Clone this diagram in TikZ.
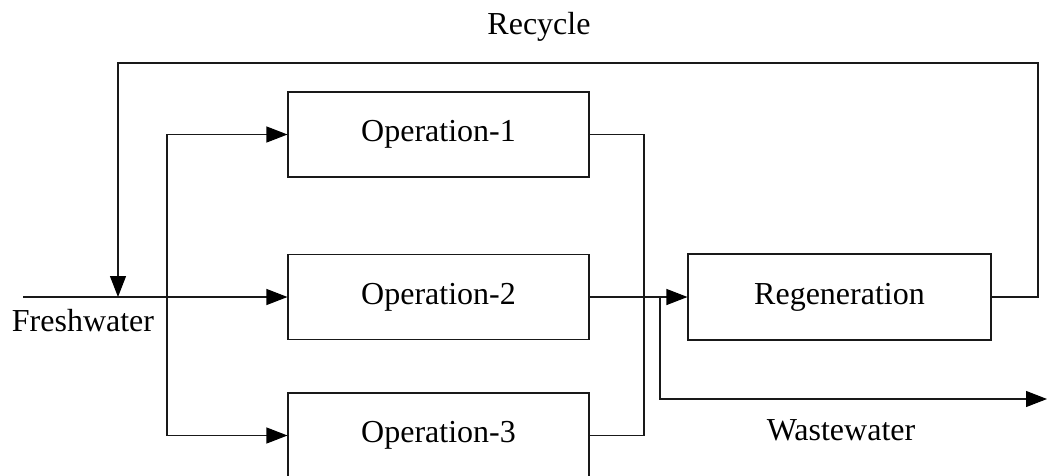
\documentclass[tikz,border=0pt]{standalone}
\usepackage{fontspec}
\setmainfont{Liberation Serif}
\usetikzlibrary{arrows.meta}
\begin{document}
\begin{tikzpicture}[x=1pt,y=-1pt,
  flow/.style={line width=1.1pt, draw=black!90},
  arr/.style={flow, -{Triangle[length=21pt,width=16pt,color=black]}},
  unitbox/.style={draw=black!90, line width=1.1pt, minimum width=301pt,
    minimum height=85pt, inner sep=0pt, font=\fontsize{32}{38}\selectfont},
  lbl/.style={inner sep=0pt, font=\fontsize{32}{38}\selectfont}]
\useasboundingbox (0,0) rectangle (1047,475);
\clip (0,0) rectangle (1047,475);

% process units
\node[unitbox] (op1) at (438.5,134.5) {Operation-1};
\node[unitbox] (op2) at (438.5,297) {Operation-2};
\node[unitbox] (op3) at (438.5,435.5) {Operation-3};
\node[unitbox, minimum width=303pt, minimum height=86pt] (reg) at (839.5,297) {Regeneration};

% junction points
\coordinate (fw) at (23,297);
\coordinate (rin) at (118,297);
\coordinate (split) at (167,297);
\coordinate (rtr) at (1038,63);
\coordinate (mix) at (644,435.5);
\coordinate (ws) at (660,297);
\coordinate (wend) at (1047,399);

% freshwater feed and distribution
\draw[arr] (fw) -- (op2.west);
\draw[arr] (split) |- (op1.west);
\draw[arr] (split) |- (op3.west);

% recycle loop
\draw[arr] (reg.east) -| (rtr) -| (rin);

% effluent collection
\draw[flow] (op1.east) -| (mix) -- (op3.east);
\draw[arr] (op2.east) -- (reg.west);
\draw[arr] (ws) |- (wend);

% labels
\node[lbl] (lrec) at (539,27) {Recycle};
\node[lbl] (lfw) at (83,321) {Freshwater};
\node[lbl] (lww) at (841,430) {Wastewater};
\end{tikzpicture}
\end{document}
